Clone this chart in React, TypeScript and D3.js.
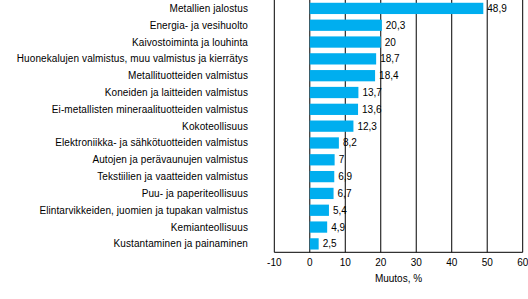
import React from "react";
import * as d3 from "d3";

const categories = [
  "Metallien jalostus",
  "Energia- ja vesihuolto",
  "Kaivostoiminta ja louhinta",
  "Huonekalujen valmistus, muu valmistus ja kierrätys",
  "Metallituotteiden valmistus",
  "Koneiden ja laitteiden valmistus",
  "Ei-metallisten mineraalituotteiden valmistus",
  "Kokoteollisuus",
  "Elektroniikka- ja sähkötuotteiden valmistus",
  "Autojen ja perävaunujen valmistus",
  "Tekstiilien ja vaatteiden valmistus",
  "Puu- ja paperiteollisuus",
  "Elintarvikkeiden, juomien ja tupakan valmistus",
  "Kemianteollisuus",
  "Kustantaminen ja painaminen",
];
const values = [48.9, 20.3, 20, 18.7, 18.4, 13.7, 13.6, 12.3, 8.2, 7, 6.9, 6.7, 5.4, 4.9, 2.5];
const valueLabels = ["48,9", "20,3", "20", "18,7", "18,4", "13,7", "13,6", "12,3", "8,2", "7", "6,9", "6,7", "5,4", "4,9", "2,5"];
const ticks = [-10, 0, 10, 20, 30, 40, 50, 60];
const axisTitle = "Muutos, %";

export default function App() {
  const W = 528, H = 299;
  const left = 274.3, right = 522.7, top = 0, bottom = 252.3;
  const x = d3.scaleLinear().domain([-10, 60]).range([left, right]);
  const y = d3.scaleBand<string>().domain(categories).range([top, bottom]).paddingInner(0.33).paddingOuter(0.165);
  const font = "Liberation Sans, Arial, sans-serif";
  return (
    <svg width={W} height={H} style={{ position: "absolute", left: 0, top: 0, background: "#fff" }}>
      <rect width={W} height={H} fill="#fff" />
      {ticks.filter(t => t > -10 && t < 60).map(t => (
        <line key={t} x1={x(t)} x2={x(t)} y1={top} y2={bottom} stroke="#000" strokeWidth={1} />
      ))}
      {categories.map((c, i) => (
        <rect key={c} x={x(0)} y={y(c)!} width={x(values[i]) - x(0)} height={y.bandwidth()} fill="#00AEEF" />
      ))}
      <line x1={left} x2={left} y1={top} y2={bottom} stroke="#000" strokeWidth={1} />
      <line x1={right} x2={right} y1={top} y2={bottom} stroke="#000" strokeWidth={1} />
      <line x1={left} x2={right} y1={bottom} y2={bottom} stroke="#000" strokeWidth={1} />
      {categories.map((c, i) => (
        <text key={"l" + c} x={248} y={y(c)! + y.bandwidth() / 2} dy="0.35em" textAnchor="end" fontFamily={font} fontSize={10} letterSpacing={0.1} fill="#000">{c}</text>
      ))}
      {categories.map((c, i) => (
        <text key={"v" + c} x={x(values[i]) + 4} y={y(c)! + y.bandwidth() / 2} dy="0.35em" fontFamily={font} fontSize={10} fill="#000">{valueLabels[i]}</text>
      ))}
      {ticks.map(t => (
        <text key={"t" + t} x={x(t)} y={262} dy="0.35em" textAnchor="middle" fontFamily={font} fontSize={10} fill="#000">{t}</text>
      ))}
      <text x={x(25)} y={278} dy="0.35em" textAnchor="middle" fontFamily={font} fontSize={10} fill="#000">{axisTitle}</text>
    </svg>
  );
}
